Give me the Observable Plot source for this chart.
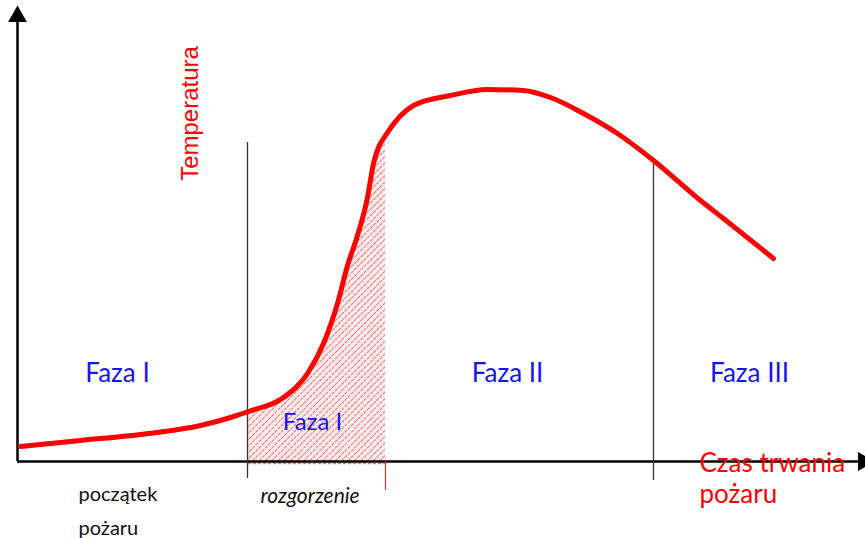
<!DOCTYPE html>
<html><head><meta charset="utf-8">
<script src="https://cdn.jsdelivr.net/npm/d3@7"></script>
<script src="https://cdn.jsdelivr.net/npm/@observablehq/plot@0.6"></script>
<style>html,body{margin:0;padding:0;background:#fff;overflow:hidden}</style>
</head><body><div id="chart"></div>
<script>
// time (t) vs temperature (T), arbitrary units
const curveT = [3,63,123,183,213,231,266,290,306,320,330,340,350,356,361,368,396,433,470,506,533,566,600,636,683,706,756];
const curveTemp = [15,21,27,36,44,50,64,88,118,158,196,226,264,298,314,326,356,366,372,371,364,348,328,301,261,243,203];
const flashStart = 231, flashEnd = 368;
const phaseLines = [ {t: 230, top: 319, bottom: -17}, {t: 636, top: 301, bottom: -19} ];
const phaseLabels = ["Faza I", "Faza II", "Faza III"];
const phaseLabelT = [100, 490, 732];
const flashLabel = "Faza I";
const yTitle = "Temperatura";
const xTitle = ["Czas trwania", "pożaru"];
const startLabel = ["początek", "pożaru"];
const flashName = "rozgorzenie";

const curve = curveT.map((t, i) => ({t, T: curveTemp[i]}));
const flash = curve.filter(d => d.t >= flashStart && d.t <= flashEnd);

const blue = "#1414f5", red = "#ff0000";
const calibri = "Lato, 'Open Sans', sans-serif";

const chart = Plot.plot({
  width: 865, height: 538,
  margin: 0,
  x: {domain: [-17, 848], axis: null},
  y: {domain: [-77, 461], axis: null},
  marks: [
    Plot.areaY(flash, {x: "t", y1: 0, y2: "T", fill: "url(#hatch)", curve: "monotone-x"}),
    Plot.ruleY([-2], {x1: flashStart, x2: flashEnd, stroke: "#e77", strokeWidth: 1.5, strokeDasharray: "3,2"}),
    Plot.ruleY([0], {x1: 0, x2: 848, stroke: "#000", strokeWidth: 2.5}),
    Plot.ruleX([0], {y1: 0, y2: 445, stroke: "#000", strokeWidth: 2.5}),
    Plot.dot([{t: 0, T: 445}], {x: "t", y: "T", symbol: "triangle", r: 7, fill: "#000", stroke: null}),
    Plot.dot([{t: 846, T: 0}], {x: "t", y: "T", symbol: "triangle", r: 7, fill: "#000", stroke: null, rotate: 90}),
    Plot.ruleX(phaseLines, {x: "t", y1: "bottom", y2: "top", stroke: "#333", strokeWidth: 1.3}),
    Plot.ruleX([flashEnd], {y1: 0, y2: -29, stroke: "#f03030", strokeWidth: 1.2}),
    Plot.line(curve, {x: "t", y: "T", stroke: red, strokeWidth: 5, curve: "monotone-x", strokeLinecap: "round"}),
    Plot.text([yTitle], {x: 173, y: 348, text: d => d, rotate: -90, fill: red, fontSize: 24, fontFamily: "'Liberation Sans', Arial, sans-serif"}),
    Plot.text(phaseLabels, {x: (d, i) => phaseLabelT[i], y: 88, text: d => d, fill: blue, fontSize: 26, fontFamily: calibri}),
    Plot.text([flashLabel], {x: 295, y: 39, text: d => d, fill: blue, fontSize: 24, fontFamily: calibri}),
    Plot.text(xTitle, {x: 682, y: (d, i) => -2 - 31 * i, text: d => d, textAnchor: "start", fill: red, fontSize: 26, fontFamily: calibri}),
    Plot.text(startLabel, {x: 61, y: (d, i) => -33 - 34 * i, text: d => d, textAnchor: "start", fill: "#111", fontSize: 20, fontFamily: calibri}),
    Plot.text([flashName], {x: 243, y: -35, text: d => d, textAnchor: "start", fill: "#111", fontSize: 21, fontStyle: "italic", fontFamily: calibri})
  ]
});

d3.select(chart).insert("defs", ":first-child").html(
  `<pattern id="hatch" patternUnits="userSpaceOnUse" width="4.5" height="4.5" patternTransform="rotate(45)">
     <rect width="4.5" height="4.5" fill="#fdeaea"/>
     <line x1="0" y1="0" x2="0" y2="4.5" stroke="#ee5a5a" stroke-width="1.6" stroke-dasharray="3.5,1"/>
   </pattern>`);
document.getElementById("chart").appendChild(chart);
</script></body></html>
